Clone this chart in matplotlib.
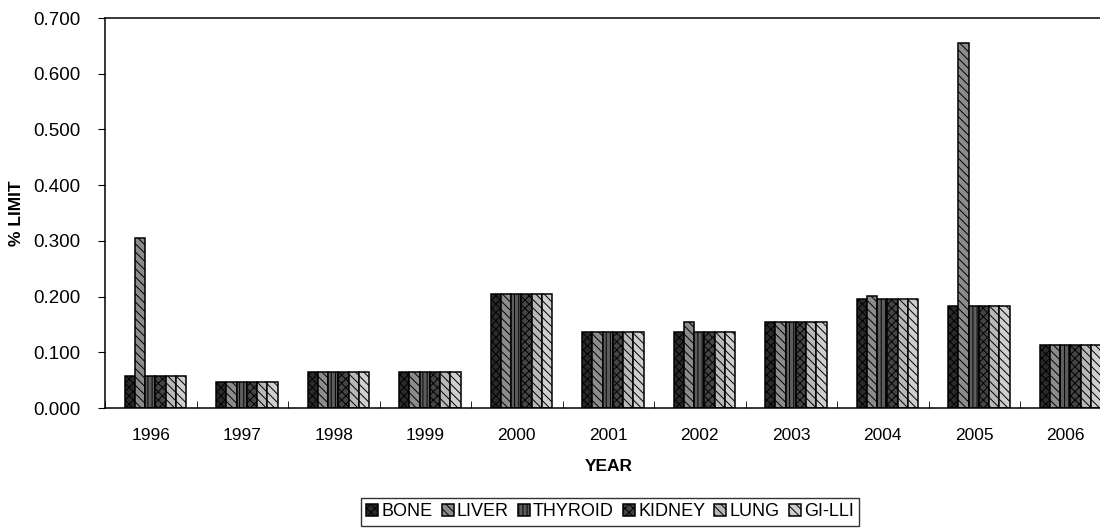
import numpy as np
import matplotlib
matplotlib.use("Agg")
import matplotlib.pyplot as plt

plt.rcParams["font.family"] = ["Liberation Sans", "DejaVu Sans"]
plt.rcParams["hatch.linewidth"] = 0.7

years = ["1996", "1997", "1998", "1999", "2000", "2001", "2002", "2003", "2004", "2005", "2006"]
organs = ["BONE", "LIVER", "THYROID", "KIDNEY", "LUNG", "GI-LLI"]

bone = [0.058, 0.047, 0.065, 0.065, 0.205, 0.136, 0.136, 0.155, 0.195, 0.183, 0.113]
liver = [0.305, 0.047, 0.065, 0.065, 0.205, 0.136, 0.155, 0.155, 0.201, 0.655, 0.113]
thyroid = [0.058, 0.047, 0.065, 0.065, 0.205, 0.136, 0.136, 0.155, 0.195, 0.183, 0.113]
kidney = [0.058, 0.047, 0.065, 0.065, 0.205, 0.136, 0.136, 0.155, 0.195, 0.183, 0.113]
lung = [0.058, 0.047, 0.065, 0.065, 0.205, 0.136, 0.136, 0.155, 0.195, 0.183, 0.113]
gi_lli = [0.058, 0.047, 0.065, 0.065, 0.205, 0.136, 0.136, 0.155, 0.195, 0.183, 0.113]

series = [bone, liver, thyroid, kidney, lung, gi_lli]
faces = ["#2a2a2a", "#8c8c8c", "#5e5e5e", "#454545", "#b8b8b8", "#cfcfcf"]
hatches = ["xxxx", "\\\\\\\\", "||||", "xxxx", "\\\\\\\\", "\\\\\\\\"]

fig = plt.figure(figsize=(11, 5.3), dpi=100)
ax = fig.add_axes([0.0955, 0.23, 0.915, 0.736])

x = np.arange(len(years))
width = 0.112
for i, (vals, name) in enumerate(zip(series, organs)):
    ax.bar(x + 0.05 + (i - 2.5) * width, vals, width, color=faces[i], edgecolor="black",
           hatch=hatches[i], linewidth=1.1, label=name)

ax.set_xlim(-0.5, len(years) - 0.5)
ax.set_ylim(0, 0.7)
yt = np.arange(0, 0.71, 0.1)
ax.set_yticks(yt)
ax.set_yticklabels(["%.3f" % v for v in yt], fontsize=13.5)
ax.set_xticks(x)
ax.set_xticklabels(years, fontsize=12.5)
ax.set_xticks(np.arange(-0.5, len(years), 1.0), minor=True)
ax.tick_params(axis="x", which="major", length=0, pad=14)
ax.tick_params(axis="x", which="minor", length=5, direction="in")
ax.tick_params(axis="y", length=5, direction="out", pad=13)
for s in ax.spines.values():
    s.set_linewidth(1.1)

ax.set_xlabel("YEAR", fontsize=12.5, fontweight="bold", labelpad=12)
ax.set_ylabel("% LIMIT", fontsize=12.5, fontweight="bold", labelpad=6)

fig.legend(*ax.get_legend_handles_labels(), loc="center",
           bbox_to_anchor=(610 / 1100, 1 - 512 / 530), ncol=6, fontsize=13,
           frameon=True, fancybox=False, edgecolor="black", handlelength=0.67,
           handleheight=0.67, handletextpad=0.17, columnspacing=0.5, borderpad=0.3,
           borderaxespad=0)

plt.savefig("out.png", dpi=100)
